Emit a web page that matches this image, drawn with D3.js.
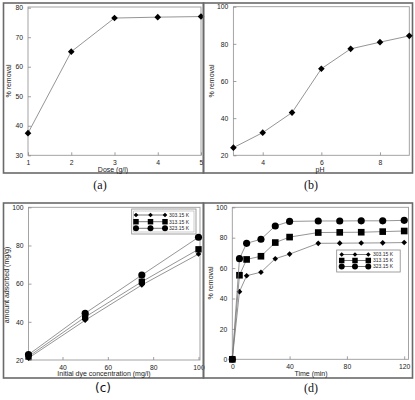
<!DOCTYPE html>
<html><head><meta charset="utf-8">
<script src="https://cdn.jsdelivr.net/npm/d3@7"></script>
<style>html,body{margin:0;padding:0;background:#fff;}svg{display:block;}</style>
</head><body>
<svg id="chart" width="415" height="400"></svg>
<script>
// ---- data ----
const doseX = [1, 2, 3, 4, 5];
const doseRemoval = [37.5, 65.1, 76.5, 76.8, 77.0];
const doseTicks = [1, 2, 3, 4, 5];
const doseYTicks = [30, 40, 50, 60, 70, 80];

const phX = [3, 4, 5, 6, 7, 8, 9];
const phRemoval = [24.1, 32.2, 43.0, 66.6, 77.3, 80.9, 84.3];
const phTicks = [4, 6, 8];
const phYTicks = [20, 40, 60, 80, 100];

const concX = [25, 50, 75, 100];
const q303 = [21.0, 40.8, 59.3, 75.5];
const q313 = [21.8, 42.5, 61.0, 78.0];
const q323 = [22.8, 44.5, 64.5, 84.3];
const concTicks = [40, 60, 80, 100];
const concYTicks = [20, 40, 60, 80, 100];

const timeX = [0, 5, 10, 20, 30, 40, 60, 75, 90, 105, 120];
const r303 = [0, 44.5, 55.0, 57.3, 66.2, 69.2, 76.3, 76.4, 76.5, 76.6, 76.8];
const r313 = [0, 55.3, 65.7, 67.8, 76.8, 80.4, 83.4, 83.5, 83.6, 84.0, 84.4];
const r323 = [0, 66.2, 76.3, 79.0, 87.7, 90.7, 91.0, 91.0, 91.1, 91.1, 91.4];
const timeTicks = [0, 40, 80, 120];
const timeYTicks = [0, 20, 40, 60, 80, 100];

const tempLabels = ["303.15 K", "313.15 K", "323.15 K"];
const captions = ["(a)", "(b)", "(c)", "(d)"];

// ---- drawing ----
const svg = d3.select("#chart");
const FONT = "'Liberation Sans', Arial, sans-serif";
const SERIF = "'Liberation Serif', 'DejaVu Serif', serif";
const markerTypes = [d3.symbolDiamond2, d3.symbolSquare, d3.symbolCircle];
const markerSizes = [20, 40, 36];

function panel(cfg) {
  const g = svg.append("g");
  g.append("rect").attr("x", cfg.frame[0]).attr("y", cfg.frame[1])
    .attr("width", cfg.frame[2] - cfg.frame[0]).attr("height", cfg.frame[3] - cfg.frame[1])
    .attr("fill", "none").attr("stroke", "#6a6a6a").attr("stroke-width", 1.6);
  const x = d3.scaleLinear().domain(cfg.xDomain).range(cfg.xRange);
  const y = d3.scaleLinear().domain(cfg.yDomain).range(cfg.yRange);
  g.append("rect").attr("x", cfg.xRange[0]).attr("y", cfg.yRange[1] - (cfg.padTop || 0))
    .attr("width", cfg.xRange[1] - cfg.xRange[0] + (cfg.padRight || 0))
    .attr("height", cfg.yRange[0] - cfg.yRange[1] + (cfg.padTop || 0))
    .attr("fill", "none").attr("stroke", "#9a9a9a").attr("stroke-width", 0.9);
  const xa = g.append("g").attr("transform", `translate(0,${cfg.yRange[0]})`)
    .call(d3.axisBottom(x).tickValues(cfg.xTicks).tickSizeInner(-3).tickSizeOuter(0).tickPadding(5).tickFormat(d3.format("d")));
  const ya = g.append("g").attr("transform", `translate(${cfg.xRange[0]},0)`)
    .call(d3.axisLeft(y).tickValues(cfg.yTicks).tickSizeInner(-3).tickSizeOuter(0).tickPadding(5).tickFormat(d3.format("d")));
  [xa, ya].forEach(a => {
    a.select(".domain").remove();
    a.selectAll(".tick line").attr("stroke", "#888").attr("stroke-width", 0.8);
    a.selectAll(".tick text").attr("font-family", FONT).attr("font-size", 6.8).attr("fill", "#222");
  });
  g.append("text").attr("x", cfg.xTitlePos[0]).attr("y", cfg.xTitlePos[1])
    .attr("text-anchor", "middle").attr("font-family", FONT).attr("font-size", 7)
    .attr("fill", "#222").text(cfg.xTitle);
  g.append("text").attr("transform", `translate(${cfg.yTitlePos[0]},${cfg.yTitlePos[1]}) rotate(-90)`)
    .attr("text-anchor", "middle").attr("font-family", FONT).attr("font-size", 7)
    .attr("fill", "#222").text(cfg.yTitle);
  const line = d3.line().x(d => x(d[0])).y(d => y(d[1]));
  cfg.series.forEach((s) => {
    const pts = s.xs.map((v, j) => [v, s.ys[j]]);
    g.append("path").datum(pts).attr("d", line).attr("fill", "none")
      .attr("stroke", "#7a7a7a").attr("stroke-width", 0.8);
    g.selectAll(null).data(pts).enter().append("path")
      .attr("transform", d => `translate(${x(d[0])},${y(d[1])})`)
      .attr("d", d3.symbol().type(markerTypes[s.m]).size(s.size || markerSizes[s.m]))
      .attr("fill", "#000");
  });
  if (cfg.legend) {
    const L = cfg.legend;
    g.append("rect").attr("x", L.box[0]).attr("y", L.box[1]).attr("width", L.box[2]).attr("height", L.box[3])
      .attr("fill", "#fff").attr("stroke", "#888").attr("stroke-width", 0.8);
    if (L.inner) {
      g.append("rect").attr("x", L.box[0] + 2).attr("y", L.box[1] + 2).attr("width", L.box[2] - 4).attr("height", L.box[3] - 4)
        .attr("fill", "none").attr("stroke", "#aaa").attr("stroke-width", 0.6);
    }
    tempLabels.forEach((lab, i) => {
      const yy = L.rows[i];
      g.append("line").attr("x1", L.x0).attr("x2", L.x1).attr("y1", yy).attr("y2", yy)
        .attr("stroke", "#555").attr("stroke-width", 0.8);
      [L.x0, (L.x0 + L.x1) / 2, L.x1].forEach(mx => {
        g.append("path").attr("transform", `translate(${mx},${yy})`)
          .attr("d", d3.symbol().type(markerTypes[i]).size(L.sizes[i])).attr("fill", "#000");
      });
      g.append("text").attr("x", L.tx).attr("y", yy + 1.8).attr("font-family", FONT)
        .attr("font-size", 5).attr("fill", "#222").text(lab);
    });
  }
  g.append("text").attr("x", cfg.cap[0]).attr("y", cfg.cap[1]).attr("text-anchor", "middle")
    .attr("font-family", cfg.capFont).attr("font-size", 12).attr("fill", "#111").text(cfg.capText);
}

panel({
  frame: [3.5, 3, 203.5, 173],
  xDomain: [1, 5], xRange: [28, 201], yDomain: [30, 80], yRange: [155.3, 7.7], padTop: 0.7,
  xTicks: doseTicks, yTicks: doseYTicks,
  xTitle: "Dose (g/l)", xTitlePos: [113, 171.5], yTitle: "% removal", yTitlePos: [10.5, 81],
  series: [{ xs: doseX, ys: doseRemoval, m: 0, size: 28 }],
  cap: [100, 189], capText: captions[0], capFont: SERIF
});
panel({
  frame: [203.5, 3, 412.5, 173],
  xDomain: [3, 9], xRange: [233.4, 409.3], yDomain: [20, 100], yRange: [155.3, 6.7],
  xTicks: phTicks, yTicks: phYTicks,
  xTitle: "pH", xTitlePos: [320, 171.5], yTitle: "% removal", yTitlePos: [213.5, 81],
  series: [{ xs: phX, ys: phRemoval, m: 0, size: 28 }],
  cap: [311, 189], capText: captions[1], capFont: SERIF
});
panel({
  frame: [3.5, 203, 203.5, 378],
  xDomain: [25, 100], xRange: [28.5, 198.5], yDomain: [20, 100], yRange: [360, 207.3], padRight: 1.5,
  xTicks: concTicks, yTicks: concYTicks,
  xTitle: "Initial dye concentration (mg/l)", xTitlePos: [104, 375.5], yTitle: "amount adsorbed (mg/g)", yTitlePos: [9, 285],
  series: [{ xs: concX, ys: q303, m: 0 }, { xs: concX, ys: q313, m: 1 }, { xs: concX, ys: q323, m: 2, size: 40 }],
  legend: { box: [131.7, 209, 64.3, 25], inner: true, rows: [215, 221.7, 228.3], x0: 136, x1: 165, tx: 169, sizes: [14, 30, 28] },
  cap: [103, 392], capText: captions[2], capFont: "'DejaVu Sans', sans-serif"
});
panel({
  frame: [203.5, 203, 412.5, 378],
  xDomain: [0, 123], xRange: [232.3, 408.5], yDomain: [0, 100], yRange: [359.3, 207.3],
  xTicks: timeTicks, yTicks: timeYTicks,
  xTitle: "Time (min)", xTitlePos: [311, 375.5], yTitle: "% removal", yTitlePos: [213, 283],
  series: [{ xs: timeX, ys: r303, m: 0 }, { xs: timeX, ys: r313, m: 1, size: 44 }, { xs: timeX, ys: r323, m: 2, size: 40 }],
  legend: { box: [336.7, 250, 63.5, 22], inner: false, rows: [254.5, 260.5, 266.5], x0: 341.7, x1: 368.3, tx: 373, sizes: [14, 30, 28] },
  cap: [311, 392], capText: captions[3], capFont: SERIF
});
</script>
</body></html>
